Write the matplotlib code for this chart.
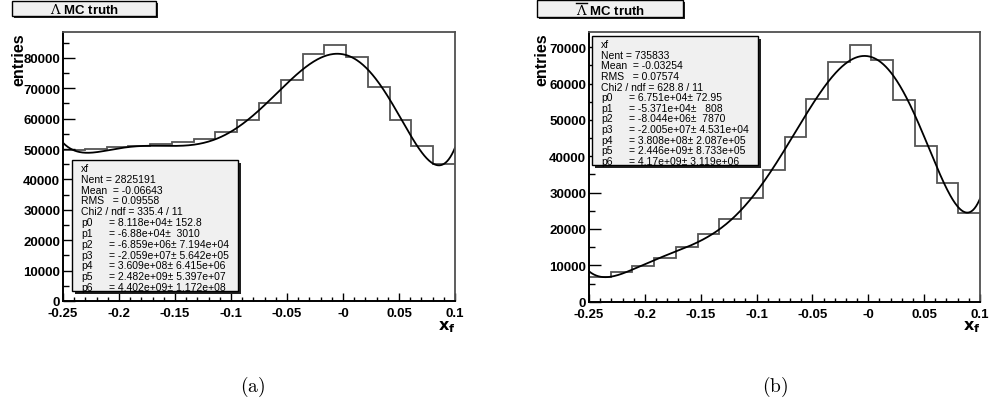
import numpy as np
import matplotlib
matplotlib.use("Agg")
import matplotlib.pyplot as plt
from matplotlib.patches import Rectangle
from matplotlib.lines import Line2D
from matplotlib.ticker import FixedLocator, FixedFormatter, MultipleLocator, StrMethodFormatter
from numpy.polynomial import polynomial as P

plt.rcParams['font.family'] = ['Liberation Sans', 'DejaVu Sans']

# x_F binning shared by both histograms
x_min, x_max, n_bins = -0.25, 0.1, 18
x_tick_values = [-0.25, -0.2, -0.15, -0.1, -0.05, 0.0, 0.05, 0.1]
x_tick_labels = ["-0.25", "-0.2", "-0.15", "-0.1", "-0.05", "-0", "0.05", "0.1"]

# Lambda MC truth
lambda_counts = [49800, 50000, 50700, 51100, 51600, 52400, 53300, 55500, 59700,
                 65100, 72700, 81200, 84300, 80200, 70300, 59500, 50900, 45000]
lambda_fit = [8.118e4, -6.88e4, -6.859e6, -2.059e7, 3.609e8, 2.482e9, 4.402e9]
lambda_fit_err = [152.8, 3010, 7.194e4, 5.642e5, 6.415e6, 5.397e7, 1.172e8]
lambda_nent, lambda_mean, lambda_rms = 2825191, "-0.06643", "0.09558"
lambda_chi2, lambda_ndf = "335.4", 11

# anti-Lambda MC truth
alambda_counts = [6700, 8080, 9900, 11920, 14950, 18600, 22730, 28500, 36200,
                  45190, 55700, 65800, 70650, 66500, 55500, 42700, 32700, 24300]
alambda_fit = [6.751e4, -5.371e4, -8.044e6, -2.005e7, 3.808e8, 2.446e9, 4.17e9]
alambda_fit_err = [72.95, 808, 7870, 4.531e4, 2.087e5, 8.733e5, 3.119e6]
alambda_nent, alambda_mean, alambda_rms = 735833, "-0.03254", "0.07574"
alambda_chi2, alambda_ndf = "628.8", 11

W, H = 989, 414
fig = plt.figure(figsize=(W / 100, H / 100), dpi=100)
renderer = fig.canvas.get_renderer()


def fx(px):
    return px / W


def fy(py):
    return 1 - py / H


def add_box(x0, y0, x1, y1, shadow=3, fill='#f0f0f0', z=5):
    """Filled box with a dark drop shadow, coordinates in pixels from top-left."""
    fig.add_artist(Rectangle((fx(x0 + shadow), fy(y1 + shadow)), fx(x1 - x0), (y1 - y0) / H,
                             transform=fig.transFigure, facecolor='#202020',
                             edgecolor='none', zorder=z))
    fig.add_artist(Rectangle((fx(x0), fy(y1)), fx(x1 - x0), (y1 - y0) / H,
                             transform=fig.transFigure, facecolor=fill,
                             edgecolor='none', zorder=z + 0.1))
    fig.add_artist(Rectangle((fx(x0), fy(y1)), fx(x1 - x0), (y1 - y0) / H,
                             transform=fig.transFigure, facecolor='none',
                             edgecolor='black', lw=1.0, zorder=z + 2))


def rect_top(rect):
    return (1 - rect[1] - rect[3]) * H


def draw_panel(rect, counts, fit, fit_err, nent, mean, rms, chi2, ndf,
               box, title_box, ylabel_x, major_y, bar=False):
    ax = fig.add_axes(rect)
    edges = np.linspace(x_min, x_max, n_bins + 1)
    ax.stairs(counts, edges, baseline=None, color='#555555', lw=1.3)
    xs = np.linspace(x_min, x_max, 500)
    ax.plot(xs, P.polyval(xs, fit), color='black', lw=1.3)
    ax.set_xlim(x_min, x_max)
    ax.set_ylim(0, 1.05 * max(counts))

    ax.xaxis.set_major_locator(FixedLocator(x_tick_values))
    ax.xaxis.set_major_formatter(FixedFormatter(x_tick_labels))
    ax.xaxis.set_minor_locator(MultipleLocator(0.01))
    ax.yaxis.set_major_locator(MultipleLocator(major_y))
    ax.yaxis.set_minor_locator(MultipleLocator(major_y / 2))
    ax.yaxis.set_major_formatter(StrMethodFormatter('{x:.0f}'))
    ax.tick_params(which='both', direction='in', top=False, right=False, color='black')
    ax.tick_params(axis='y', which='major', length=8.6, width=1.0, pad=2)
    ax.tick_params(axis='y', which='minor', length=4.3, width=1.0)
    ax.tick_params(axis='x', which='major', length=5.8, width=1.0, pad=4.5)
    ax.tick_params(axis='x', which='minor', length=2.9, width=1.0)
    for lab in ax.get_xticklabels() + ax.get_yticklabels():
        lab.set_fontweight('bold')
        lab.set_fontsize(9.5)
    for side in ('left', 'bottom'):
        ax.spines[side].set_linewidth(1.4)
        ax.spines[side].set_color('black')
    for side in ('top', 'right'):
        ax.spines[side].set_linewidth(1.3)
        ax.spines[side].set_color('#505050')

    # axis titles
    fig.text(fx(ylabel_x), fy(rect_top(rect)), "entries", rotation=90, ha='center',
             va='top', fontsize=11.5, fontweight='bold')
    right_px = (rect[0] + rect[2]) * W
    fig.text(fx(right_px + 1), fy(319), r"$\mathbf{x}_{\mathbf{f}}$", ha='right',
             va='top', fontsize=11.5)

    # statistics box
    bx0, by0, bx1, by1 = box
    add_box(bx0, by0, bx1, by1, shadow=3)
    lines = ["xf", f"Nent = {nent}", f"Mean  = {mean}", f"RMS   = {rms}",
             f"Chi2 / ndf = {chi2} / {ndf}"]
    step = (by1 - 4 - (by0 + 8)) / 11
    for i, s in enumerate(lines):
        fig.text(fx(bx0 + 9), fy(by0 + 8 + i * step), s, fontsize=7.5,
                 va='center', ha='left', zorder=6)
    for j, (p, e) in enumerate(zip(fit, fit_err)):
        yy = fy(by0 + 8 + (len(lines) + j) * step)
        fig.text(fx(bx0 + 9), yy, f"p{j}", fontsize=7.5, va='center', ha='left', zorder=6)
        fig.text(fx(bx0 + 37), yy, f"= {p:.4g}\u00b1 {e:5.4g}", fontsize=7.5,
                 va='center', ha='left', zorder=6)

    # histogram title: Lambda (with an overbar for the antiparticle) + "MC truth"
    tx0, ty0, tx1, ty1 = title_box
    add_box(tx0, ty0, tx1, ty1, shadow=2)
    base_y = ty1 - 3
    t = fig.text(fx((tx0 + tx1) / 2), fy(base_y), r"$\Lambda$ MC truth", ha='center',
                 va='baseline', fontsize=9.5, fontweight='bold', zorder=8,
                 math_fontfamily='dejavuserif')
    if bar:
        full = t.get_window_extent(renderer)
        probe = fig.text(0, 0, r"$\Lambda$", fontsize=9.5, math_fontfamily='dejavuserif')
        lam = probe.get_window_extent(renderer)
        probe.remove()
        x_left = full.x0
        fig.add_artist(Line2D([fx(x_left + 0.5), fx(x_left + lam.width - 0.5)],
                              [fy(ty0 + 3), fy(ty0 + 3)], transform=fig.transFigure,
                              color='black', lw=1.0, zorder=9))
    return ax


draw_panel([63 / W, 112 / H, 392 / W, 269 / H], lambda_counts, lambda_fit,
           lambda_fit_err, lambda_nent, lambda_mean, lambda_rms, lambda_chi2,
           lambda_ndf, box=(72, 161, 238, 292),
           title_box=(12, 2, 156, 17), ylabel_x=19, major_y=10000)
draw_panel([589 / W, 111.3 / H, 391 / W, 269.7 / H], alambda_counts, alambda_fit,
           alambda_fit_err, alambda_nent, alambda_mean, alambda_rms, alambda_chi2,
           alambda_ndf, box=(592, 37, 758, 166),
           title_box=(537, 1, 683, 18), ylabel_x=542, major_y=10000, bar=True)

# sub-figure captions
for cx, cap in ((253, "(a)"), (775, "(b)")):
    fig.text(fx(cx), fy(387), r"$\mathrm{" + cap + "}$", ha='center', va='center',
             fontsize=14, math_fontfamily='cm')

fig.savefig("out.png", dpi=100)
